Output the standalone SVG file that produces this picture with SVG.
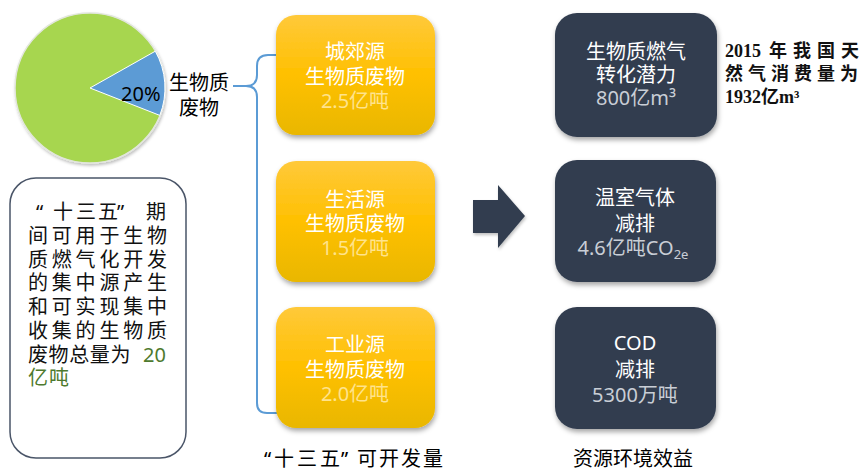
<svg xmlns="http://www.w3.org/2000/svg" width="864" height="470" viewBox="0 0 864 470">
<defs>
<linearGradient id="gy" x1="0" y1="0" x2="0" y2="1">
<stop offset="0" stop-color="#FFC93A"/>
<stop offset="0.5" stop-color="#FFC000"/>
<stop offset="1" stop-color="#E9B700"/>
</linearGradient>
<filter id="sh" x="-10%" y="-10%" width="125%" height="130%">
<feDropShadow dx="1" dy="3" stdDeviation="2.5" flood-color="#000" flood-opacity="0.35"/>
</filter>
<filter id="shs" x="-10%" y="-10%" width="125%" height="130%">
<feDropShadow dx="1" dy="2" stdDeviation="1.5" flood-color="#000" flood-opacity="0.25"/>
</filter>
</defs>
<style>
text{font-family:"Noto Sans","Noto Sans CJK SC",sans-serif;}
.lbl{font-size:20px;fill:#000;}
.bt{font-size:20px;fill:#fff;text-anchor:middle;}
.yv{fill:#FFE38C;}
.dv{fill:#C9CED6;}
.yb{fill:url(#gy);filter:url(#sh);}
.db{fill:#323E50;filter:url(#sh);}
.note{font-size:20px;fill:#111;}
.grn{fill:#4E7A2E;}
.serif{font-family:"Liberation Serif","Noto Sans CJK SC",serif;font-weight:bold;font-size:18px;fill:#111;}
.conn{fill:none;stroke:#5B9BD5;stroke-width:2;}
</style>
<rect width="864" height="470" fill="#fff"/>

<g id="pie" filter="url(#shs)">
<circle cx="90" cy="88" r="75" fill="#A7D650" stroke="#E2E6DC" stroke-width="1.5"/>
<path d="M90,88 L155.3,51.2 A75,75 0 0 1 159.8,115.4 Z" fill="#5B9BD5" stroke="#fff" stroke-width="1"/>
</g>
<g id="pie-labels">
<text class="lbl" x="121" y="101">20%</text>
<text class="lbl" x="169" y="90">生物质</text>
<text class="lbl" x="179" y="115">废物</text>
</g>

<g id="connectors">
<path class="conn" d="M233,86 L246,86 Q257,86 257,75 L257,66 Q257,55 268,55 L277,55"/>
<path class="conn" d="M246,86 Q257,86 257,97 L257,403 Q257,413 267,413 L277,413"/>
<path id="arrow" d="M473,200 L498,200 L498,185 L525,216 L498,248 L498,233 L473,233 Z" fill="#323E50" filter="url(#shs)"/>
</g>

<g id="note">
<rect x="10" y="178" width="176" height="280" rx="26" fill="#fff" stroke="#4A5568" stroke-width="1.5"/>
<text class="note" y="219"><tspan x="36">“</tspan><tspan x="53">十</tspan><tspan x="76">三</tspan><tspan x="98">五</tspan><tspan x="117">”</tspan><tspan x="146">期</tspan></text>
<text class="note" x="28" y="243" letter-spacing="3.8">间可用于生物</text>
<text class="note" x="28" y="267" letter-spacing="3.8">质燃气化开发</text>
<text class="note" x="28" y="290" letter-spacing="3.8">的集中源产生</text>
<text class="note" x="28" y="314" letter-spacing="3.8">和可实现集中</text>
<text class="note" x="28" y="338" letter-spacing="3.8">收集的生物质</text>
<text class="note" x="28" y="362" letter-spacing="0.6">废物总量为<tspan class="grn" x="143" letter-spacing="0">20</tspan></text>
<text class="note grn" x="28" y="385" letter-spacing="1">亿吨</text>
</g>

<g id="src1">
<rect class="yb" x="276" y="15" width="159" height="120" rx="20"/>
<text class="bt" x="355" y="59">城郊源</text>
<text class="bt" x="355" y="84">生物质废物</text>
<text class="bt yv" x="355" y="108">2.5亿吨</text>
</g>
<g id="src2">
<rect class="yb" x="276" y="161" width="159" height="121" rx="20"/>
<text class="bt" x="355" y="207">生活源</text>
<text class="bt" x="355" y="231">生物质废物</text>
<text class="bt yv" x="355" y="255">1.5亿吨</text>
</g>
<g id="src3">
<rect class="yb" x="276" y="307" width="159" height="121" rx="20"/>
<text class="bt" x="355" y="352">工业源</text>
<text class="bt" x="355" y="377">生物质废物</text>
<text class="bt yv" x="355" y="401">2.0亿吨</text>
</g>
<g id="caption-left">
<text class="lbl" y="466"><tspan x="264">“</tspan><tspan x="274">十</tspan><tspan x="297">三</tspan><tspan x="320">五</tspan><tspan x="341">”</tspan><tspan x="357" letter-spacing="2">可开发量</tspan></text>
</g>

<g id="ben1">
<rect class="db" x="555" y="13" width="162" height="124" rx="22"/>
<text class="bt" x="636" y="59">生物质燃气</text>
<text class="bt" x="636" y="82">转化潜力</text>
<text class="bt dv" x="636" y="105">800亿m³</text>
</g>
<g id="ben2">
<rect class="db" x="555" y="160" width="161" height="122" rx="22"/>
<text class="bt" x="635" y="205">温室气体</text>
<text class="bt" x="635" y="231">减排</text>
<text class="bt dv" x="633" y="255">4.6亿吨CO<tspan font-size="13" dy="4">2e</tspan></text>
</g>
<g id="ben3">
<rect class="db" x="555" y="307" width="161" height="122" rx="22"/>
<text class="bt" x="635" y="350">COD</text>
<text class="bt" x="635" y="377">减排</text>
<text class="bt dv" x="635" y="402">5300万吨</text>
</g>
<g id="caption-right">
<text class="lbl" x="633" y="466" text-anchor="middle">资源环境效益</text>
</g>

<g id="fact">
<text class="serif" y="57"><tspan x="725">2015</tspan><tspan x="769" letter-spacing="6">年我国天</tspan></text>
<text class="serif" x="725" y="80" letter-spacing="5">然气消费量为</text>
<text class="serif" x="725" y="103">1932亿m³</text>
</g>
</svg>
